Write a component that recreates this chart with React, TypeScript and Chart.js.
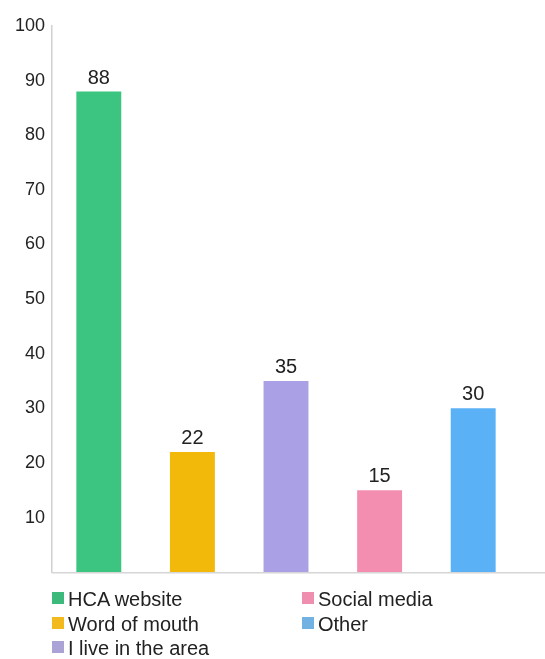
import React, { useEffect, useRef } from "react";
import { Chart, registerables } from "chart.js";

Chart.register(...registerables);

const categories = ["HCA website", "Word of mouth", "I live in the area", "Social media", "Other"];
const values = [88, 22, 35, 15, 30];
const barColors = ["#3CC580", "#F2B80A", "#A9A0E6", "#F48EB0", "#5BB1F6"];
const legendColors = ["#3CB97B", "#F2BA1C", "#ABA3D6", "#F08EB0", "#72B2E2"];
const yTicks = [10, 20, 30, 40, 50, 60, 70, 80, 90, 100];

const FONT = "'Liberation Sans', Arial, sans-serif";

const valueLabels = {
  id: "valueLabels",
  afterDatasetsDraw(chart: any) {
    const ctx = chart.ctx;
    const meta = chart.getDatasetMeta(0);
    ctx.save();
    ctx.font = `20px ${FONT}`;
    ctx.fillStyle = "#222";
    ctx.textAlign = "center";
    ctx.textBaseline = "alphabetic";
    meta.data.forEach((bar: any, i: number) => {
      ctx.fillText(String(values[i]), bar.x, bar.y - 8);
    });
    ctx.restore();
  },
};

const baseLine = {
  id: "baseLine",
  afterDraw(chart: any) {
    const { ctx, chartArea, width } = chart;
    ctx.save();
    ctx.strokeStyle = "#d6d6d6";
    ctx.lineWidth = 1.5;
    ctx.beginPath();
    ctx.moveTo(chartArea.left, chartArea.bottom + 0.5);
    ctx.lineTo(width, chartArea.bottom + 0.5);
    ctx.stroke();
    ctx.restore();
  },
};

// legend layout: column-first, 3 rows x 2 columns
const legendCols = [52, 302];
const legendRowTop = 587;
const legendRowStep = 24.5;

export default function App() {
  const ref = useRef<HTMLCanvasElement | null>(null);

  useEffect(() => {
    if (!ref.current) return;
    const chart = new Chart(ref.current, {
      type: "bar",
      data: {
        labels: categories,
        datasets: [
          {
            data: values,
            backgroundColor: barColors,
            borderWidth: 0,
            barPercentage: 0.48,
            categoryPercentage: 1,
          },
        ],
      },
      options: {
        animation: false,
        responsive: false,
        maintainAspectRatio: false,
        layout: { padding: { top: 26, right: 25, bottom: 0, left: 0 } },
        plugins: {
          legend: { display: false },
          tooltip: { enabled: false },
          title: { display: false },
        },
        scales: {
          x: {
            ticks: { display: false },
            grid: { display: false, drawTicks: false },
            border: { display: false },
          },
          y: {
            min: 0,
            max: 100,
            afterFit(scale: any) {
              scale.width = 52;
            },
            afterBuildTicks(scale: any) {
              scale.ticks = [0, ...yTicks].map((v) => ({ value: v }));
            },
            ticks: {
              stepSize: 10,
              padding: 7,
              color: "#222",
              font: { size: 18, family: FONT },
              callback: (v: any) => (v === 0 ? "" : String(v)),
            },
            grid: { display: false, drawTicks: false },
            border: { display: true, color: "#d0d0d0", width: 1.5 },
          },
        },
      },
      plugins: [valueLabels, baseLine],
    });
    return () => chart.destroy();
  }, []);

  return (
    <div
      style={{
        position: "absolute",
        left: 0,
        top: 0,
        width: 545,
        height: 659,
        background: "#fff",
        fontFamily: FONT,
      }}
    >
      <canvas ref={ref} width={545} height={590} style={{ display: "block" }} />
      {categories.map((c, i) => {
        const col = i < 3 ? 0 : 1;
        const row = i < 3 ? i : i - 3;
        return (
          <div
            key={c}
            style={{
              position: "absolute",
              left: legendCols[col],
              top: legendRowTop + row * legendRowStep,
              height: 24,
              lineHeight: "24px",
              fontSize: 20,
              color: "#222",
              whiteSpace: "nowrap",
            }}
          >
            <span
              style={{
                position: "absolute",
                left: 0,
                top: 5,
                width: 12,
                height: 12,
                background: legendColors[i],
              }}
            />
            <span style={{ marginLeft: 16 }}>{c}</span>
          </div>
        );
      })}
    </div>
  );
}
